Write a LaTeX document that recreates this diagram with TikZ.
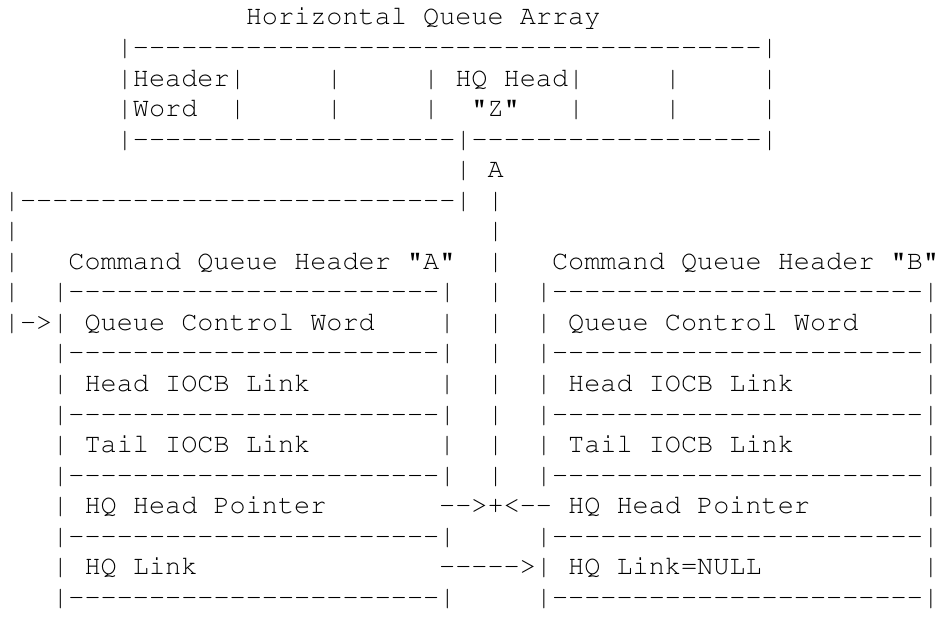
\documentclass[tikz,border=0pt]{standalone}
\usepackage[T1]{fontenc}
\newlength{\du}
\setlength{\du}{0.5pt}
\newcommand{\asciifont}{\fontfamily{pcr}\fontsize{13.46}{16}\selectfont}
\newcommand{\dashrun}[1]{\foreach \k in {1,...,#1}{-}}

\begin{document}
\begin{tikzpicture}[even odd rule,
  asciitext/.style={anchor=base west,inner sep=0pt,outer sep=0pt,color=dialinecolor,font=\asciifont}]
\pgftransformxscale{1.000000}
\pgftransformyscale{-1.000000}
\definecolor{dialinecolor}{rgb}{0.000000, 0.000000, 0.000000}
\definecolor{diafillcolor}{rgb}{1.000000, 1.000000, 1.000000}
\fill[diafillcolor] (0\du,0\du)--(939\du,0\du)--(939\du,625\du)--(0\du,625\du)--cycle;
% horizontal queue array
\node[asciitext] (title) at (246.25\du,25.0\du){Horizontal Queue Array};
\node[asciitext] (hqaTop) at (117.05\du,55.6\du){|\dashrun{39}|};
\node[asciitext] (hdrHeader) at (117.05\du,86.2\du){|Header|};
\node[asciitext] (hdrDivC) at (327.00\du,86.2\du){|};
\node[asciitext] (hdrDivD) at (423.90\du,86.2\du){|};
\node[asciitext] (hdrHead) at (456.20\du,86.2\du){HQ Head|};
\node[asciitext] (hdrDivF) at (666.15\du,86.2\du){|};
\node[asciitext] (hdrDivG) at (763.05\du,86.2\du){|};
\node[asciitext] (wrdWord) at (117.05\du,116.8\du){|Word};
\node[asciitext] (wrdDivB) at (230.10\du,116.8\du){|};
\node[asciitext] (wrdDivC) at (327.00\du,116.8\du){|};
\node[asciitext] (wrdDivD) at (423.90\du,116.8\du){|};
\node[asciitext] (wrdZ) at (472.35\du,116.8\du){"Z"};
\node[asciitext] (wrdDivE) at (569.25\du,116.8\du){|};
\node[asciitext] (wrdDivF) at (666.15\du,116.8\du){|};
\node[asciitext] (wrdDivG) at (763.05\du,116.8\du){|};
\node[asciitext] (hqaBottom) at (117.05\du,147.4\du){|\dashrun{20}|\dashrun{18}|};
% pointer A and the loop back
\node[asciitext] (ptrA) at (456.20\du,178.0\du){| A};
\node[asciitext] (loopTop) at (4.00\du,208.6\du){|\dashrun{27}| |};
\node[asciitext] (loopLeftG) at (4.00\du,239.2\du){|};
\node[asciitext] (ptrG) at (488.50\du,239.2\du){|};
\node[asciitext] (loopLeftH) at (4.00\du,269.8\du){|};
\node[asciitext] (cqaTitle) at (68.60\du,269.8\du){Command Queue Header "A"};
\node[asciitext] (ptrH) at (488.50\du,269.8\du){|};
\node[asciitext] (cqbTitle) at (553.10\du,269.8\du){Command Queue Header "B"};
\node[asciitext] (loopLeftI) at (4.00\du,300.4\du){|};
\node[asciitext] (cqaTop) at (52.45\du,300.4\du){|\dashrun{23}|};
\node[asciitext] (ptrI) at (488.50\du,300.4\du){|};
\node[asciitext] (cqbTop) at (536.95\du,300.4\du){|\dashrun{23}|};
% command queue headers
\node[asciitext] (cqaQcw) at (4.00\du,331.0\du){|->| Queue Control Word};
\node[asciitext] (cqaQcwR) at (440.05\du,331.0\du){|};
\node[asciitext] (ptrJ) at (488.50\du,331.0\du){|};
\node[asciitext] (cqbQcw) at (536.95\du,331.0\du){| Queue Control Word};
\node[asciitext] (cqbQcwR) at (924.55\du,331.0\du){|};
\node[asciitext] (cqaSepA) at (52.45\du,361.6\du){|\dashrun{23}|};
\node[asciitext] (ptrK) at (488.50\du,361.6\du){|};
\node[asciitext] (cqbSepA) at (536.95\du,361.6\du){|\dashrun{23}|};
\node[asciitext] (cqaHead) at (52.45\du,392.2\du){| Head IOCB Link};
\node[asciitext] (cqaHeadR) at (440.05\du,392.2\du){|};
\node[asciitext] (ptrL) at (488.50\du,392.2\du){|};
\node[asciitext] (cqbHead) at (536.95\du,392.2\du){| Head IOCB Link};
\node[asciitext] (cqbHeadR) at (924.55\du,392.2\du){|};
\node[asciitext] (cqaSepB) at (52.45\du,422.8\du){|\dashrun{23}|};
\node[asciitext] (ptrM) at (488.50\du,422.8\du){|};
\node[asciitext] (cqbSepB) at (536.95\du,422.8\du){|\dashrun{23}|};
\node[asciitext] (cqaTail) at (52.45\du,453.4\du){| Tail IOCB Link};
\node[asciitext] (cqaTailR) at (440.05\du,453.4\du){|};
\node[asciitext] (ptrN) at (488.50\du,453.4\du){|};
\node[asciitext] (cqbTail) at (536.95\du,453.4\du){| Tail IOCB Link};
\node[asciitext] (cqbTailR) at (924.55\du,453.4\du){|};
\node[asciitext] (cqaSepC) at (52.45\du,484.0\du){|\dashrun{23}|};
\node[asciitext] (ptrO) at (488.50\du,484.0\du){|};
\node[asciitext] (cqbSepC) at (536.95\du,484.0\du){|\dashrun{23}|};
\node[asciitext] (cqaHqp) at (52.45\du,514.6\du){| HQ Head Pointer};
\node[asciitext] (cqbHqp) at (440.05\du,514.6\du){-{}->+<-{}- HQ Head Pointer};
\node[asciitext] (cqbHqpR) at (924.55\du,514.6\du){|};
\node[asciitext] (cqaSepD) at (52.45\du,545.2\du){|\dashrun{23}|};
\node[asciitext] (cqbSepD) at (536.95\du,545.2\du){|\dashrun{23}|};
\node[asciitext] (cqaLink) at (52.45\du,575.8\du){| HQ Link};
\node[asciitext] (cqbLink) at (440.05\du,575.8\du){-{}-{}-{}-{}->| HQ Link=NULL};
\node[asciitext] (cqbLinkR) at (924.55\du,575.8\du){|};
\node[asciitext] (cqaBottom) at (52.45\du,606.4\du){|\dashrun{23}|};
\node[asciitext] (cqbBottom) at (536.95\du,606.4\du){|\dashrun{23}|};
\end{tikzpicture}
\end{document}
